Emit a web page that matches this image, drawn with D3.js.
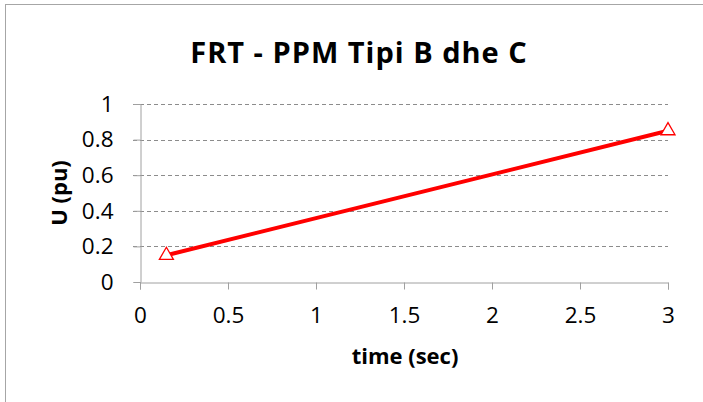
<!DOCTYPE html>
<html><head><meta charset="utf-8">
<script src="https://cdn.jsdelivr.net/npm/d3@7"></script>
<style>body{margin:0;background:#fff;} text{font-family:"Open Sans",sans-serif;}</style>
</head><body>
<svg id="c" width="703" height="402"></svg>
<script>
const titleText = "FRT - PPM Tipi B dhe C";
const xLabel = "time (sec)";
const yLabel = "U (pu)";
const timeValues = [0.15, 3];
const uValues = [0.15, 0.85];
const xTicks = [0, 0.5, 1, 1.5, 2, 2.5, 3];
const yTicks = [0, 0.2, 0.4, 0.6, 0.8, 1];

const svg = d3.select("#c");
svg.append("rect").attr("x",5.5).attr("y",4.5).attr("width",720).attr("height",420)
  .attr("fill","#fff").attr("stroke","#a6a6a6").attr("stroke-width",1);

const x = d3.scaleLinear().domain([0,3]).range([140,668]);
const y = d3.scaleLinear().domain([0,1]).range([282,104]);

svg.append("text").attr("x",359).attr("y",63).attr("text-anchor","middle")
  .attr("font-size",29).attr("letter-spacing",1).attr("font-weight","bold").attr("fill","#000").text(titleText);

// gridlines
svg.append("g").selectAll("line").data(yTicks.filter(d=>d>0)).join("line")
  .attr("x1",133).attr("x2",668).attr("y1",d=>Math.round(y(d))+0.5).attr("y2",d=>Math.round(y(d))+0.5)
  .attr("stroke","#8c8c8c").attr("stroke-dasharray","4,3").attr("stroke-width",1);

// y axis
const ya = svg.append("g").attr("transform","translate(140.5,0)")
  .call(d3.axisLeft(y).tickValues(yTicks).tickSize(7).tickPadding(20).tickFormat(d3.format("")));
ya.select(".domain").attr("stroke","#a0a0a0");
ya.selectAll(".tick line").attr("stroke","#a0a0a0");
ya.selectAll("text").attr("font-size",22.5).attr("fill","#000");

// x axis
const xa = svg.append("g").attr("transform","translate(0,282.5)")
  .call(d3.axisBottom(x).tickValues(xTicks).tickSize(7).tickSizeOuter(7).tickPadding(18).tickFormat(d3.format("")));
xa.select(".domain").attr("stroke","#a0a0a0");
xa.selectAll(".tick line").attr("stroke","#a0a0a0");
xa.selectAll("text").attr("font-size",22.5).attr("fill","#000");

svg.append("text").attr("x",405).attr("y",364).attr("text-anchor","middle")
  .attr("font-size",22).attr("font-weight","bold").text(xLabel);
svg.append("text").attr("transform","translate(67,193) rotate(-90)").attr("text-anchor","middle")
  .attr("font-size",22).attr("font-weight","bold").text(yLabel);

const pts = timeValues.map((t,i)=>[t,uValues[i]]);
svg.append("path").datum(pts).attr("fill","none").attr("stroke","#ff0000").attr("stroke-width",4)
  .attr("d",d3.line().x(d=>x(d[0])).y(d=>y(d[1])));
svg.append("g").selectAll("path").data(pts).join("path")
  .attr("transform",d=>`translate(${x(d[0])},${y(d[1])})`)
  .attr("d",d3.symbol().type(d3.symbolTriangle).size(85))
  .attr("fill","#fff").attr("stroke","#ff0000").attr("stroke-width",1.3);
</script>
</body></html>
